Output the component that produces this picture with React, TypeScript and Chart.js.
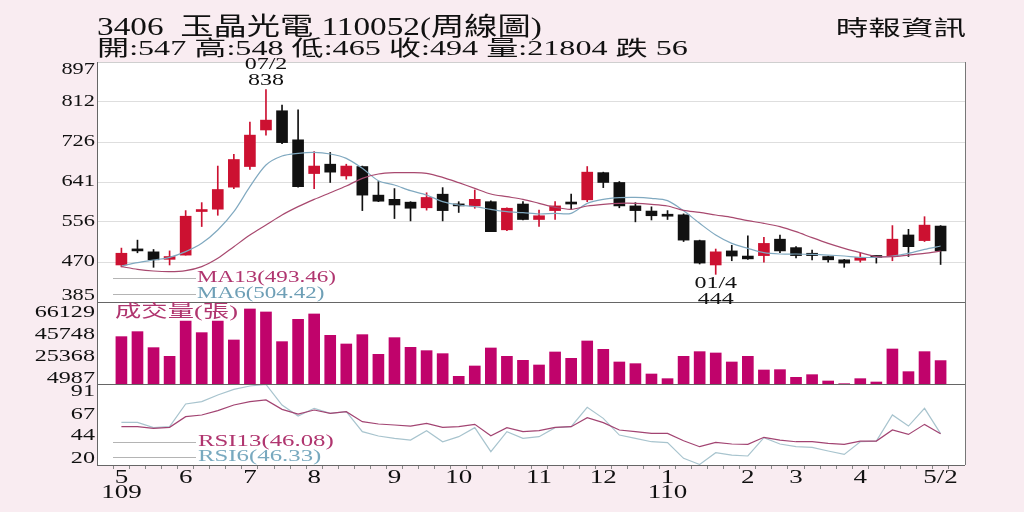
import React, { useEffect, useRef } from 'react';
import { Chart, registerables } from 'chart.js';

Chart.register(...registerables);

// ---------- data (weekly, 109/5 .. 110/5) ----------
const OPEN = [464, 495, 492, 476, 485, 578, 583, 630, 674, 752, 793, 731, 659, 679, 654, 674, 613, 604, 598, 586, 615, 591, 590, 599, 539, 594, 561, 580, 597, 603, 661, 640, 590, 579, 570, 571, 516, 464, 494, 483, 484, 519, 501, 489, 482, 475, 474, 481, 482, 528, 516, 547];
const HIGH = [500, 517, 497, 494, 580, 597, 675, 700, 769, 838, 805, 795, 706, 704, 679, 675, 642, 627, 599, 618, 629, 599, 624, 601, 586, 599, 581, 599, 615, 674, 662, 642, 597, 588, 580, 573, 517, 498, 506, 526, 523, 528, 503, 496, 483, 476, 490, 483, 548, 540, 567, 548];
const LOW = [460, 490, 459, 464, 485, 546, 570, 627, 668, 741, 723, 630, 627, 640, 647, 580, 599, 563, 558, 581, 558, 576, 585, 535, 537, 560, 546, 561, 582, 599, 629, 586, 556, 560, 561, 514, 466, 444, 473, 476, 470, 490, 479, 475, 470, 459, 470, 468, 473, 482, 514, 465];
const CLOSE = [489, 494, 475, 482, 568, 581, 625, 689, 741, 773, 725, 631, 675, 662, 675, 613, 600, 592, 585, 608, 580, 590, 604, 535, 585, 561, 569, 590, 594, 662, 640, 590, 580, 569, 568, 517, 468, 492, 483, 477, 510, 494, 484, 484, 475, 468, 480, 480, 519, 503, 549, 494];
const VOLUME = [44120, 48780, 33870, 25790, 58720, 47850, 58720, 41010, 69910, 67110, 39460, 60280, 65250, 45360, 37280, 45980, 27650, 43190, 34180, 31070, 28270, 7150, 16780, 33560, 25790, 22060, 17710, 29830, 23920, 40080, 32310, 20510, 18950, 9320, 4970, 25790, 30140, 28900, 20510, 25790, 13050, 13360, 6210, 8700, 2800, 300, 4970, 1860, 32620, 11500, 30140, 21804];
const MA13 = [460.4, 454.7, 451.1, 449.7, 451.8, 460.4, 478.2, 503.0, 527.9, 549.3, 570.6, 588.4, 604.0, 618.2, 632.5, 648.8, 658.1, 660.9, 660.9, 659.5, 651.0, 639.6, 627.5, 615.4, 609.7, 604.0, 595.5, 587.0, 582.7, 589.8, 593.4, 595.5, 595.5, 593.4, 589.8, 580.5, 576.3, 570.6, 565.6, 558.5, 552.8, 545.7, 535.0, 522.2, 510.1, 499.5, 490.2, 481.7, 481.7, 485.2, 488.8, 493.46];
const MA6 = [461.8, 468.9, 474.6, 480.3, 492.4, 510.2, 538.6, 577.7, 631.0, 677.3, 696.5, 702.2, 704.3, 700.7, 691.5, 670.2, 643.8, 634.6, 622.5, 613.3, 599.0, 591.9, 588.4, 582.7, 577.7, 575.6, 572.7, 574.2, 574.2, 595.5, 604.0, 607.6, 608.3, 606.2, 601.2, 579.5, 552.8, 527.9, 510.1, 499.5, 490.2, 487.4, 487.4, 486.7, 485.2, 483.1, 480.3, 480.3, 483.1, 488.8, 497.3, 504.42];
const RSI13 = [53.7, 53.7, 52.0, 53.0, 64.4, 66.2, 70.8, 76.8, 80.4, 82.2, 72.2, 67.2, 71.5, 67.9, 69.7, 59.1, 56.6, 55.5, 54.4, 57.3, 53.0, 53.7, 56.2, 44.1, 52.7, 48.4, 49.5, 53.0, 53.7, 63.3, 58.0, 50.2, 48.4, 46.6, 46.6, 38.8, 32.4, 37.0, 35.3, 34.9, 42.4, 39.5, 37.7, 37.7, 36.0, 34.9, 38.4, 38.4, 50.2, 45.5, 56.2, 46.08];
const RSI6 = [58.3, 58.3, 52.7, 53.7, 77.9, 80.4, 87.5, 93.5, 97.1, 98.8, 76.8, 65.1, 73.3, 67.9, 69.7, 48.4, 43.8, 41.3, 39.5, 49.5, 37.7, 43.1, 52.7, 27.1, 48.4, 41.3, 43.1, 52.7, 53.7, 74.3, 62.6, 44.8, 41.3, 37.7, 36.7, 20.0, 13.5, 26.0, 23.5, 22.5, 42.0, 35.3, 32.4, 31.7, 27.8, 24.2, 37.7, 38.4, 66.2, 54.4, 73.3, 46.33];

// tick labels
const PRICE_TICKS = [385, 470, 556, 641, 726, 812, 897];
const VOLUME_TICKS = [4987, 25368, 45748, 66129];
const RSI_TICKS = [20, 44, 67, 91];
const MONTH_TICKS: [number, string][] = [[0, '5'], [4, '6'], [8, '7'], [12, '8'], [17, '9'], [21, '10'], [26, '11'], [30, '12'], [34, '1'], [39, '2'], [42, '3'], [46, '4'], [51, '5/2']];
const YEAR_TICKS: [number, string][] = [[0, '109'], [34, '110']];
const HIGH_DATE = '07/2';
const LOW_DATE = '01/4';

// ---------- styles ----------
const BG = '#f9ecf1';
const UP = '#cc1131';
const DOWN = '#111111';
const VOL_C = '#c0036b';
const MA13_C = '#a8496f';
const MA6_C = '#80a9c0';
const RSI13_C = '#a24472';
const RSI6_C = '#a8c4ce';
const FONT = '"Liberation Serif", "Noto Sans CJK TC", serif';

function sText(ctx: CanvasRenderingContext2D, t: string, x: number, y: number, size: number, sx: number, color: string, align: CanvasTextAlign = 'left') {
  ctx.save();
  ctx.font = `${size}px ${FONT}`;
  ctx.fillStyle = color;
  ctx.textBaseline = 'middle';
  ctx.textAlign = align;
  ctx.translate(x, y);
  ctx.scale(sx, 1);
  ctx.fillText(t, 0, 0);
  ctx.restore();
}

function hLine(ctx: CanvasRenderingContext2D, x1: number, x2: number, y: number, color: string) {
  ctx.save();
  ctx.strokeStyle = color;
  ctx.lineWidth = 1;
  ctx.beginPath();
  const yy = Math.round(y) + 0.5;
  ctx.moveTo(x1, yy);
  ctx.lineTo(x2, yy);
  ctx.stroke();
  ctx.restore();
}

function vLine(ctx: CanvasRenderingContext2D, x: number, y1: number, y2: number, color: string) {
  ctx.save();
  ctx.strokeStyle = color;
  ctx.lineWidth = 1;
  ctx.beginPath();
  const xx = Math.round(x) + 0.5;
  ctx.moveTo(xx, y1);
  ctx.lineTo(xx, y2);
  ctx.stroke();
  ctx.restore();
}

const overlay = {
  id: 'overlay',
  beforeDraw(chart: any) {
    const { ctx, chartArea: a } = chart;
    ctx.save();
    ctx.fillStyle = BG;
    ctx.fillRect(0, 0, chart.width, chart.height);
    ctx.fillStyle = '#ffffff';
    ctx.fillRect(a.left, a.top, a.right - a.left, a.bottom - a.top);
    ctx.restore();
  },
  afterDraw(chart: any) {
    const { ctx, chartArea: a, scales } = chart;
    const x = scales.x, yP = scales.yP, yV = scales.yV, yR = scales.yR;
    // frame & separators
    hLine(ctx, a.left, a.right, a.top, '#cfcfcf');
    hLine(ctx, a.left, a.right, yV.top, '#666666');
    hLine(ctx, a.left, a.right, yV.bottom, '#666666');
    hLine(ctx, a.left, a.right, a.bottom, '#666666');
    vLine(ctx, a.left, a.top, a.bottom, '#666666');
    vLine(ctx, a.right, a.top, a.bottom, '#777777');

    // price ticks
    PRICE_TICKS.forEach((v) => {
      let py = yP.getPixelForValue(v);
      py = Math.min(Math.max(py, yP.top + 8), yP.bottom - 6);
      sText(ctx, String(v), a.left - 2, py, 16, 1.4, '#111', 'right');
    });
    VOLUME_TICKS.forEach((v) => {
      sText(ctx, String(v), a.left - 2, yV.getPixelForValue(v), 17, 1.42, '#111', 'right');
    });
    RSI_TICKS.forEach((v) => {
      sText(ctx, String(v), a.left - 2, yR.getPixelForValue(v), 17, 1.42, '#111', 'right');
    });
    MONTH_TICKS.forEach(([i, t]) => {
      sText(ctx, t, x.getPixelForValue(i), a.bottom + 13, 18, 1.5, '#111', 'center');
    });
    YEAR_TICKS.forEach(([i, t]) => {
      sText(ctx, t, x.getPixelForValue(i), a.bottom + 28.5, 18, 1.5, '#111', 'center');
    });

    // legends
    const lx1 = a.left + 16, lx2 = a.left + 99, tx = a.left + 100;
    hLine(ctx, lx1, lx2, yP.bottom - 24, '#b4b4b4');
    sText(ctx, `MA13(${MA13[MA13.length - 1].toFixed(2)})`, tx, yP.bottom - 24, 16, 1.44, '#b0356f');
    hLine(ctx, lx1, lx2, yP.bottom - 8, '#b4b4b4');
    sText(ctx, `MA6(${MA6[MA6.length - 1].toFixed(2)})`, tx, yP.bottom - 8, 16, 1.44, '#6e9fb6');
    sText(ctx, '成交量(張)', a.left + 18, yV.top + 11, 17, 1.55, '#b0356f');
    hLine(ctx, lx1, lx2, yR.bottom - 23, '#b4b4b4');
    sText(ctx, `RSI13(${RSI13[RSI13.length - 1].toFixed(2)})`, tx + 1, yR.bottom - 23, 16, 1.55, '#b0356f');
    hLine(ctx, lx1, lx2, yR.bottom - 8, '#b4b4b4');
    sText(ctx, `RSI6(${RSI6[RSI6.length - 1].toFixed(2)})`, tx + 1, yR.bottom - 8, 16, 1.55, '#78a9bf');

    // high / low annotations
    let hi = 0, lo = 0;
    HIGH.forEach((v, i) => { if (v > HIGH[hi]) hi = i; });
    LOW.forEach((v, i) => { if (v < LOW[lo]) lo = i; });
    const hx = x.getPixelForValue(hi), hy = yP.getPixelForValue(HIGH[hi]);
    sText(ctx, HIGH_DATE, hx, hy - 25, 16, 1.5, '#111', 'center');
    sText(ctx, String(HIGH[hi]), hx, hy - 9, 16, 1.5, '#111', 'center');
    const lx = x.getPixelForValue(lo), ly = yP.getPixelForValue(LOW[lo]);
    sText(ctx, LOW_DATE, lx, ly + 9, 16, 1.5, '#111', 'center');
    sText(ctx, String(LOW[lo]), lx, ly + 25, 16, 1.5, '#111', 'center');
  },
};

export default function App() {
  const ref = useRef<HTMLCanvasElement>(null);
  useEffect(() => {
    const colors = CLOSE.map((c, i) => (c >= OPEN[i] ? UP : DOWN));
    const idx = OPEN.map((_, i) => i);
    const chart = new Chart(ref.current as HTMLCanvasElement, {
      type: 'bar',
      data: {
        datasets: [
          { type: 'line', label: 'MA13', yAxisID: 'yP', data: idx.map((i) => ({ x: i, y: MA13[i] })), borderColor: MA13_C, borderWidth: 1.2, pointRadius: 0, tension: 0.3, order: 0 } as any,
          { type: 'line', label: 'MA6', yAxisID: 'yP', data: idx.map((i) => ({ x: i, y: MA6[i] })), borderColor: MA6_C, borderWidth: 1.2, pointRadius: 0, tension: 0.3, order: 0 } as any,
          { type: 'line', label: 'RSI13', yAxisID: 'yR', data: idx.map((i) => ({ x: i, y: RSI13[i] })), borderColor: RSI13_C, borderWidth: 1.2, pointRadius: 0, tension: 0, order: 0 } as any,
          { type: 'line', label: 'RSI6', yAxisID: 'yR', data: idx.map((i) => ({ x: i, y: RSI6[i] })), borderColor: RSI6_C, borderWidth: 1.2, pointRadius: 0, tension: 0, order: 0 } as any,
          { type: 'bar', label: 'body', yAxisID: 'yP', data: idx.map((i) => ({ x: i, y: [OPEN[i], CLOSE[i]] })), backgroundColor: colors, barThickness: 11, minBarLength: 2, grouped: false, order: 1 } as any,
          { type: 'bar', label: 'wick', yAxisID: 'yP', data: idx.map((i) => ({ x: i, y: [LOW[i], HIGH[i]] })), backgroundColor: colors, barThickness: 1, grouped: false, order: 2 } as any,
          { type: 'bar', label: 'volume', yAxisID: 'yV', data: idx.map((i) => ({ x: i, y: VOLUME[i] })), backgroundColor: VOL_C, barThickness: 11, grouped: false, order: 1 } as any,
        ],
      },
      options: {
        responsive: false,
        animation: false,
        events: [],
        layout: { padding: { top: 62, right: 59, bottom: 0, left: 0 } },
        plugins: { legend: { display: false }, tooltip: { enabled: false } },
        scales: {
          x: {
            type: 'linear', min: -1, max: 52, position: 'bottom',
            afterBuildTicks: (s: any) => { s.ticks = idx.map((i) => ({ value: i })); },
            ticks: { display: false },
            grid: { drawOnChartArea: false, drawTicks: true, tickLength: 4, color: '#888888' },
            border: { display: false },
            afterFit: (s: any) => { s.height = 47; },
          },
          yP: {
            type: 'linear', position: 'left', stack: 'panels', stackWeight: 240, weight: 3, min: 385, max: 897,
            afterBuildTicks: (s: any) => { s.ticks = PRICE_TICKS.map((v) => ({ value: v })); },
            ticks: { display: false },
            grid: { color: '#dedede', drawTicks: false },
            border: { display: false },
            afterFit: (s: any) => { s.width = 97; },
          },
          yV: {
            type: 'linear', position: 'left', stack: 'panels', stackWeight: 82, weight: 2, min: 0, max: 76400,
            ticks: { display: false },
            grid: { display: false },
            border: { display: false },
            afterFit: (s: any) => { s.width = 97; },
          },
          yR: {
            type: 'linear', position: 'left', stack: 'panels', stackWeight: 81, weight: 1, min: 12.9, max: 99.2,
            ticks: { display: false },
            grid: { display: false },
            border: { display: false },
            afterFit: (s: any) => { s.width = 97; },
          },
        },
      } as any,
      plugins: [overlay],
    });
    return () => chart.destroy();
  }, []);

  const last = OPEN.length - 1;
  const head: React.CSSProperties = { position: 'absolute', whiteSpace: 'pre', fontFamily: FONT, color: '#111', transformOrigin: '0 0' };
  return (
    <div style={{ position: 'absolute', left: 0, top: 0, width: 1024, height: 512, background: BG, overflow: 'hidden' }}>
      <canvas ref={ref} width={1024} height={512} style={{ position: 'absolute', left: 0, top: 0, width: 1024, height: 512 }} />
      <div style={{ ...head, left: 97, top: 14, fontSize: 25, lineHeight: '25px', transform: 'scaleX(1.33)' }}>
        {'3406  玉晶光電 110052(周線圖)'}
      </div>
      <div style={{ ...head, left: 97, top: 37.5, fontSize: 21, lineHeight: '21px', transform: 'scaleX(1.53)' }}>
        {`開:${OPEN[last]} 高:${HIGH[last]} 低:${LOW[last]} 收:${CLOSE[last]} 量:${VOLUME[last]} 跌 56`}
      </div>
      <div style={{ ...head, right: 58, top: 18, fontSize: 21, lineHeight: '21px', transform: 'scaleX(1.55)', transformOrigin: '100% 0' }}>
        {'時報資訊'}
      </div>
    </div>
  );
}
